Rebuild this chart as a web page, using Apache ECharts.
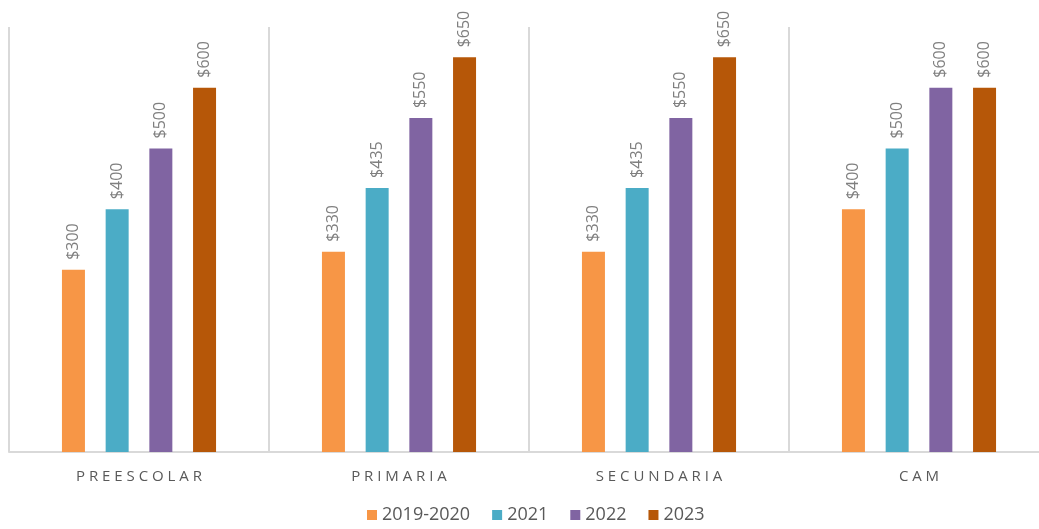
<!DOCTYPE html>
<html>
<head>
<meta charset="utf-8">
<script src="https://cdn.jsdelivr.net/npm/echarts@6/dist/echarts.min.js"></script>
<style>html,body{margin:0;padding:0;background:#fff;overflow:hidden;width:1039px;height:529px;}#c{width:1060px;height:529px;}</style>
</head>
<body>
<div id="c"></div>
<script>
const categories = ['PREESCOLAR', 'PRIMARIA', 'SECUNDARIA', 'CAM'];
const seriesNames = ['2019-2020', '2021', '2022', '2023'];
const s2019 = [300, 330, 330, 400];
const s2021 = [400, 435, 435, 500];
const s2022 = [500, 550, 550, 600];
const s2023 = [600, 650, 650, 600];
const colors = ['#F79646', '#4BACC6', '#8064A2', '#B65708'];

const spaced = s => s.split('').join(' ');
const chart = echarts.init(document.getElementById('c'));
const data = [s2019, s2021, s2022, s2023];
chart.setOption({
  animation: false,
  color: colors,
  grid: { left: 9, top: 27, width: 1040, height: 425, containLabel: false },
  legend: {
    bottom: 0, left: 362, itemWidth: 10, itemHeight: 10, itemGap: 22,
    icon: 'rect',
    textStyle: { color: '#595959', fontSize: 18, fontFamily: 'Open Sans' },
    data: seriesNames
  },
  xAxis: {
    type: 'category', data: categories,
    axisLine: { lineStyle: { color: '#d9d9d9', width: 2 } },
    axisTick: { show: false },
    splitLine: { show: true, lineStyle: { color: '#d9d9d9', width: 2 } },
    axisLabel: { color: '#595959', fontSize: 15, margin: 17, fontFamily: 'Open Sans', formatter: v => spaced(v) }
  },
  yAxis: {
    type: 'value', min: 0, max: 700, show: false,
    splitLine: { show: false }
  },
  series: seriesNames.map((n, i) => ({
    name: n, type: 'bar', data: data[i], barWidth: 23, barGap: '90%',
    label: {
      show: true, position: 'top', rotate: 90, align: 'left', verticalAlign: 'middle',
      distance: 10, color: '#7f7f7f', fontSize: 16, fontFamily: 'Open Sans',
      formatter: p => '$' + p.value
    }
  }))
});
</script>
</body>
</html>
